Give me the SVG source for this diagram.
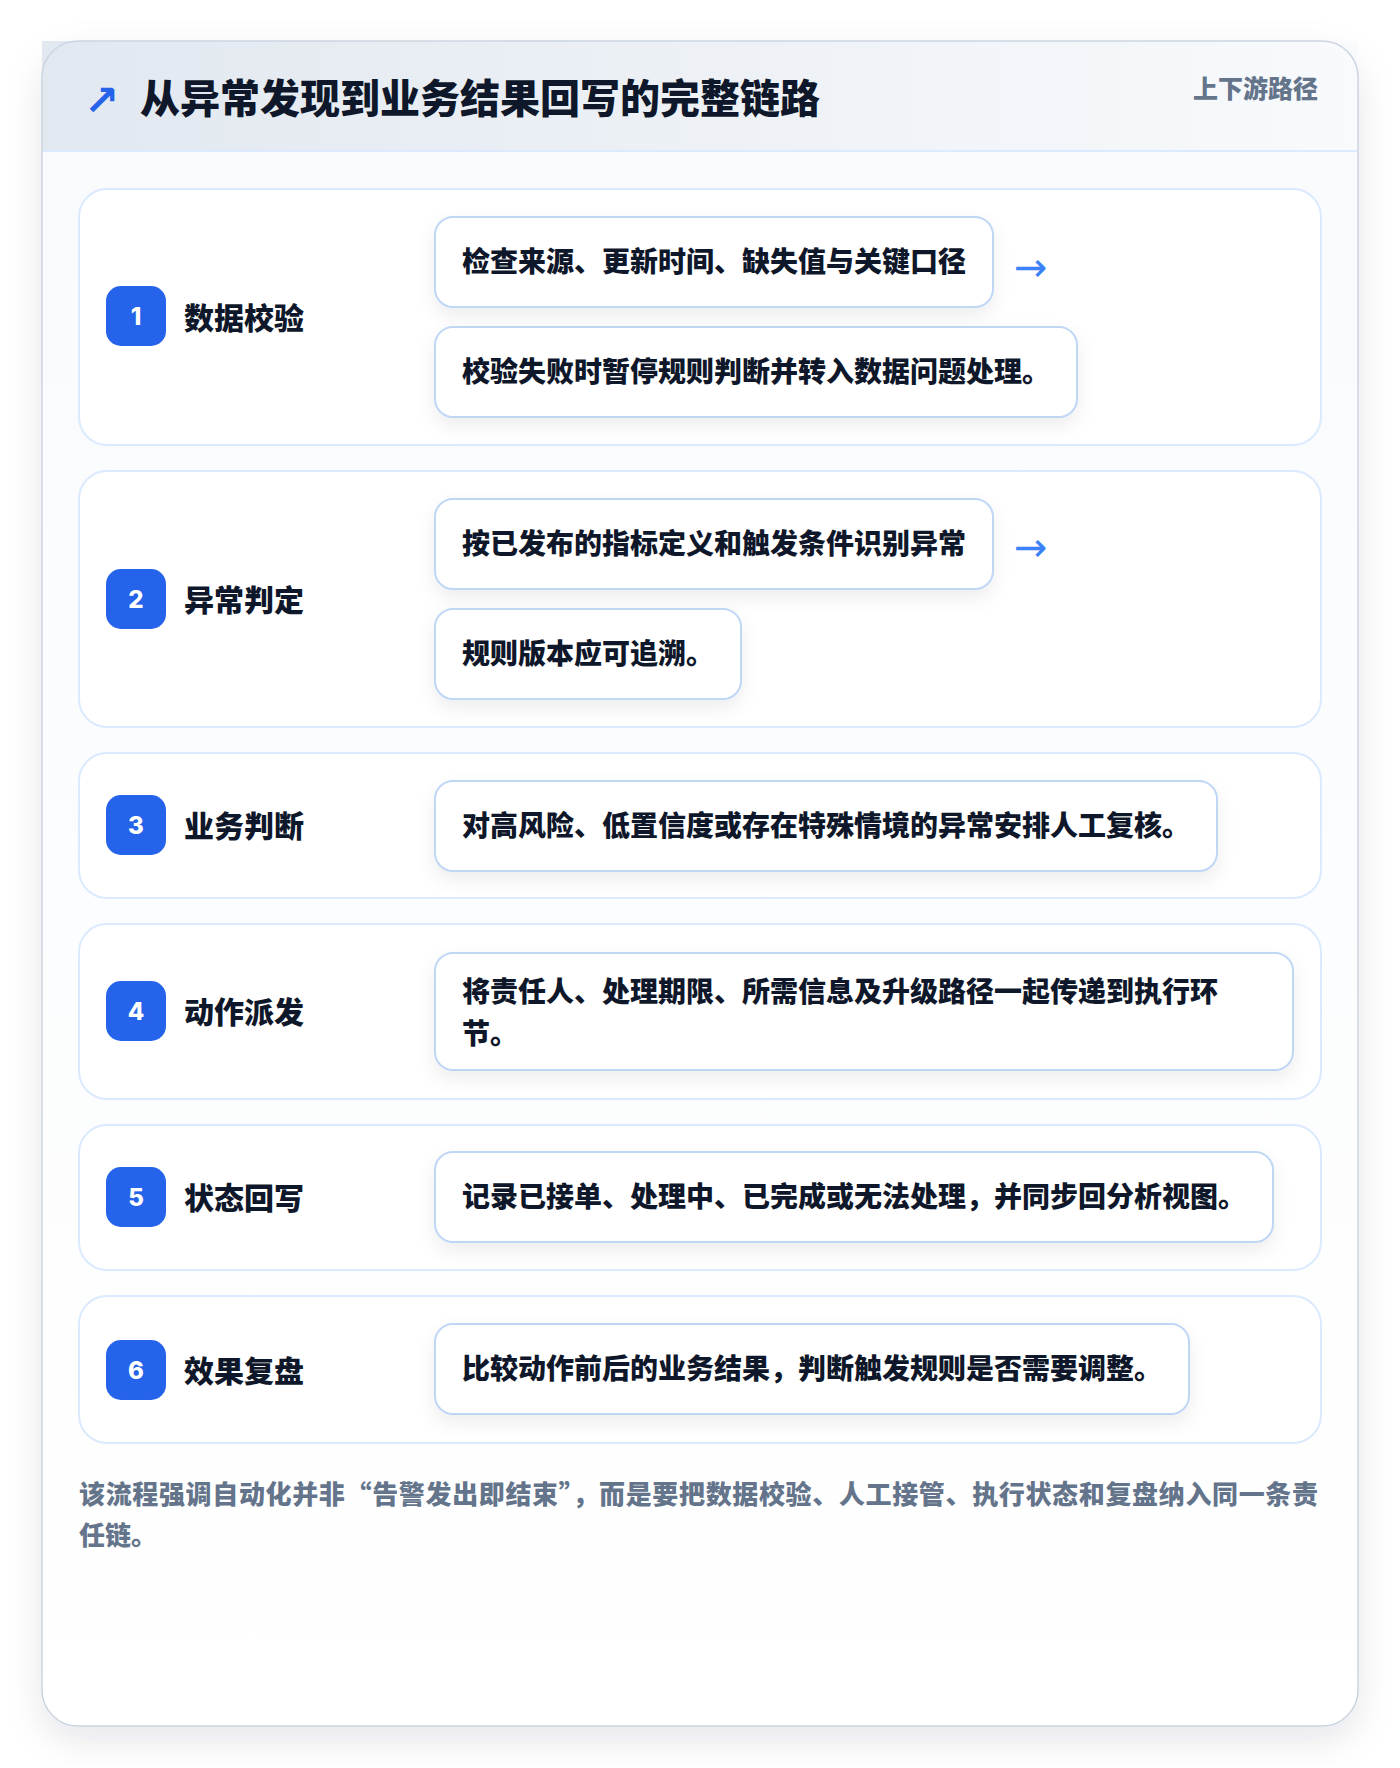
<svg xmlns="http://www.w3.org/2000/svg" width="1400" height="1768" viewBox="0 0 1400 1768">
<defs>
<linearGradient id="hdr" x1="0" y1="0" x2="1" y2="0">
<stop offset="0" stop-color="#e2e8f0"/>
<stop offset="1" stop-color="#f8fafc"/>
</linearGradient>
<linearGradient id="body" x1="0" y1="0" x2="0" y2="1">
<stop offset="0" stop-color="#f8fafc"/>
<stop offset="1" stop-color="#ffffff"/>
</linearGradient>
<filter id="cardShadow" x="-10%" y="-10%" width="120%" height="120%">
<feDropShadow dx="0" dy="14" stdDeviation="18" flood-color="#0f172a" flood-opacity="0.10"/>
</filter>
<filter id="boxShadow" x="-10%" y="-20%" width="120%" height="160%">
<feDropShadow dx="0" dy="8" stdDeviation="9" flood-color="#0f172a" flood-opacity="0.07"/>
</filter>
</defs>
<style>
.cjk{font-family:"Noto Sans CJK SC","Noto Sans",sans-serif;}
.title{font-size:40px;font-weight:900;fill:#0f172a;}
.tag{font-size:25px;font-weight:900;fill:#64748b;}
.row{fill:#ffffff;stroke:#dbeafe;stroke-width:2;}
.badge{fill:#2563eb;}
.num{font-family:Inter,"Noto Sans",sans-serif;font-size:24px;font-weight:800;fill:#ffffff;text-anchor:middle;}
.label{font-size:30px;font-weight:900;fill:#0f172a;}
.box{fill:#ffffff;stroke:#bfd7f5;stroke-width:2;}
.btxt{font-size:28px;font-weight:900;fill:#0f172a;}
.arr{font-family:"DejaVu Sans",sans-serif;font-size:40px;fill:#3b82f6;}
.foot{font-size:26px;font-weight:900;fill:#64748b;}
</style>
<rect width="1400" height="1768" fill="#ffffff"/>
<g id="card">
<rect x="42" y="41" width="1316" height="1685" rx="36" fill="url(#body)" filter="url(#cardShadow)"/>
<rect x="42" y="41" width="1316" height="110" fill="url(#hdr)"/>
<line x1="42" y1="151" x2="1358" y2="151" stroke="#dbeafe" stroke-width="2"/>
<rect x="42" y="41" width="1316" height="1685" rx="36" fill="none" stroke="#cbd5e1" stroke-width="1.5"/>
</g>
<g id="header">
<text class="arr" x="84" y="115" style="font-size:42px;fill:#2563eb;font-weight:700">↗</text>
<text class="cjk title" x="140" y="113">从异常发现到业务结果回写的完整链路</text>
<text class="cjk tag" x="1318" y="98" text-anchor="end">上下游路径</text>
</g>
<g id="step1">
<rect class="row" x="79" y="189" width="1242" height="256" rx="28"/>
<rect class="badge" x="106" y="286" width="60" height="60" rx="15"/>
<text class="num" x="136" y="325">1</text>
<text class="cjk label" x="184" y="329">数据校验</text>
<rect class="box" x="435" y="217" width="558" height="90" rx="18" filter="url(#boxShadow)"/>
<text class="cjk btxt" x="462" y="272">检查来源、更新时间、缺失值与关键口径</text>
<rect class="box" x="435" y="327" width="642" height="90" rx="18" filter="url(#boxShadow)"/>
<text class="cjk btxt" x="462" y="382">校验失败时暂停规则判断并转入数据问题处理。</text>
</g>
<g id="step2">
<rect class="row" x="79" y="471" width="1242" height="256" rx="28"/>
<rect class="badge" x="106" y="569" width="60" height="60" rx="15"/>
<text class="num" x="136" y="608">2</text>
<text class="cjk label" x="184" y="611">异常判定</text>
<rect class="box" x="435" y="499" width="558" height="90" rx="18" filter="url(#boxShadow)"/>
<text class="cjk btxt" x="462" y="554">按已发布的指标定义和触发条件识别异常</text>
<rect class="box" x="435" y="609" width="306" height="90" rx="18" filter="url(#boxShadow)"/>
<text class="cjk btxt" x="462" y="664">规则版本应可追溯。</text>
</g>
<g id="step3">
<rect class="row" x="79" y="753" width="1242" height="145" rx="28"/>
<rect class="badge" x="106" y="795" width="60" height="60" rx="15"/>
<text class="num" x="136" y="834">3</text>
<text class="cjk label" x="184" y="837">业务判断</text>
<rect class="box" x="435" y="781" width="782" height="90" rx="18" filter="url(#boxShadow)"/>
<text class="cjk btxt" x="462" y="836">对高风险、低置信度或存在特殊情境的异常安排人工复核。</text>
</g>
<g id="step4">
<rect class="row" x="79" y="924" width="1242" height="175" rx="28"/>
<rect class="badge" x="106" y="981" width="60" height="60" rx="15"/>
<text class="num" x="136" y="1020">4</text>
<text class="cjk label" x="184" y="1023">动作派发</text>
<rect class="box" x="435" y="953" width="858" height="117" rx="18" filter="url(#boxShadow)"/>
<text class="cjk btxt" x="462" y="1002">将责任人、处理期限、所需信息及升级路径一起传递到执行环</text>
<text class="cjk btxt" x="462" y="1044">节。</text>
</g>
<g id="step5">
<rect class="row" x="79" y="1125" width="1242" height="145" rx="28"/>
<rect class="badge" x="106" y="1167" width="60" height="60" rx="15"/>
<text class="num" x="136" y="1206">5</text>
<text class="cjk label" x="184" y="1209">状态回写</text>
<rect class="box" x="435" y="1152" width="838" height="90" rx="18" filter="url(#boxShadow)"/>
<text class="cjk btxt" x="462" y="1207">记录已接单、处理中、已完成或无法处理，并同步回分析视图。</text>
</g>
<g id="step6">
<rect class="row" x="79" y="1296" width="1242" height="147" rx="28"/>
<rect class="badge" x="106" y="1340" width="60" height="60" rx="15"/>
<text class="num" x="136" y="1379">6</text>
<text class="cjk label" x="184" y="1382">效果复盘</text>
<rect class="box" x="435" y="1324" width="754" height="90" rx="18" filter="url(#boxShadow)"/>
<text class="cjk btxt" x="462" y="1379">比较动作前后的业务结果，判断触发规则是否需要调整。</text>
</g>
<g id="connectors">
<text class="arr" x="1014" y="281">→</text>
<text class="arr" x="1014" y="561">→</text>
</g>
<g id="footer">
<text class="cjk foot" x="79" y="1504" textLength="1239" lengthAdjust="spacing">该流程强调自动化并非“告警发出即结束”，而是要把数据校验、人工接管、执行状态和复盘纳入同一条责</text>
<text class="cjk foot" x="79" y="1545">任链。</text>
</g>
</svg>
